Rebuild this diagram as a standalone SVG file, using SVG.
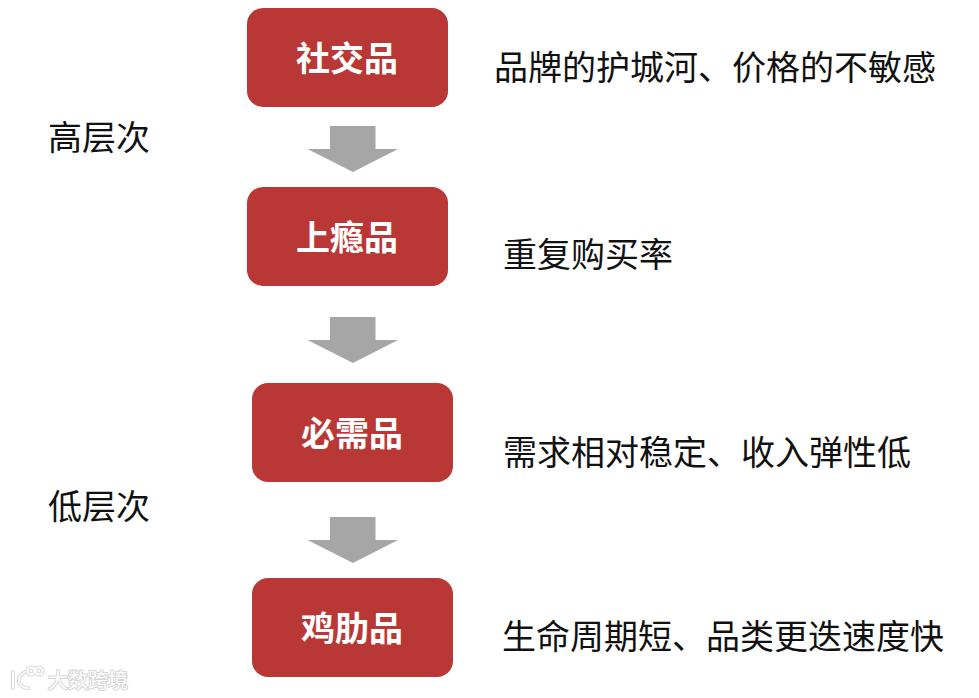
<svg xmlns="http://www.w3.org/2000/svg" width="979" height="698" viewBox="0 0 979 698">
<style>
text{font-family:"Noto Sans CJK SC","Liberation Sans",sans-serif}
.n rect{fill:#b93735}
.n text{fill:#fff;font-size:34px;font-weight:700;text-anchor:middle}
.l{fill:#111;font-size:34px}
.a{fill:#a6a6a6}
.wo{fill:none;stroke:#d6d6d6;stroke-width:4;stroke-linecap:round}
.wi{fill:none;stroke:#fff;stroke-width:2;stroke-linecap:round}
</style>
<rect width="979" height="698" fill="#fff"/>
<g id="connectors">
<polygon class="a" points="330,126 375.500,126 375.500,149 398,149 353,172 307.500,149 330,149"/>
<polygon class="a" points="330,317 375.500,317 375.500,340 398,340 353,363 307.500,340 330,340"/>
<polygon class="a" points="330,517 375.500,517 375.500,540 398,540 353,563 307.500,540 330,540"/>
</g>
<g id="n1" class="n"><rect x="247" y="8" width="201" height="99" rx="16"/><text x="347" y="71">社交品</text></g>
<g id="n2" class="n"><rect x="247" y="187" width="201" height="99" rx="16"/><text x="347" y="250">上瘾品</text></g>
<g id="n3" class="n"><rect x="252" y="383" width="201" height="99" rx="16"/><text x="352" y="446">必需品</text></g>
<g id="n4" class="n"><rect x="252" y="578" width="201" height="99" rx="16"/><text x="352" y="641">鸡肋品</text></g>
<text class="l" x="494" y="80">品牌的护城河、价格的不敏感</text>
<text class="l" x="503" y="267">重复购买率</text>
<text class="l" x="503" y="465">需求相对稳定、收入弹性低</text>
<text class="l" x="502" y="649">生命周期短、品类更迭速度快</text>
<text class="l" x="48" y="150">高层次</text>
<text class="l" x="48" y="519">低层次</text>
<g id="watermark">
<path class="wo" d="M13,672V688M25,672C20,675 18,679 19,682C20,686 24,688 28,688"/>
<circle class="wo" cx="31" cy="671" r="3.500"/><circle class="wo" cx="39" cy="671" r="3.500"/>
<path class="wi" d="M13,672V688M25,672C20,675 18,679 19,682C20,686 24,688 28,688"/>
<circle class="wi" cx="31" cy="671" r="3.500"/><circle class="wi" cx="39" cy="671" r="3.500"/>
<text x="48" y="688" font-size="20" fill="#fff" stroke="#d6d6d6" stroke-width="2" paint-order="stroke">大数跨境</text>
</g>
</svg>
